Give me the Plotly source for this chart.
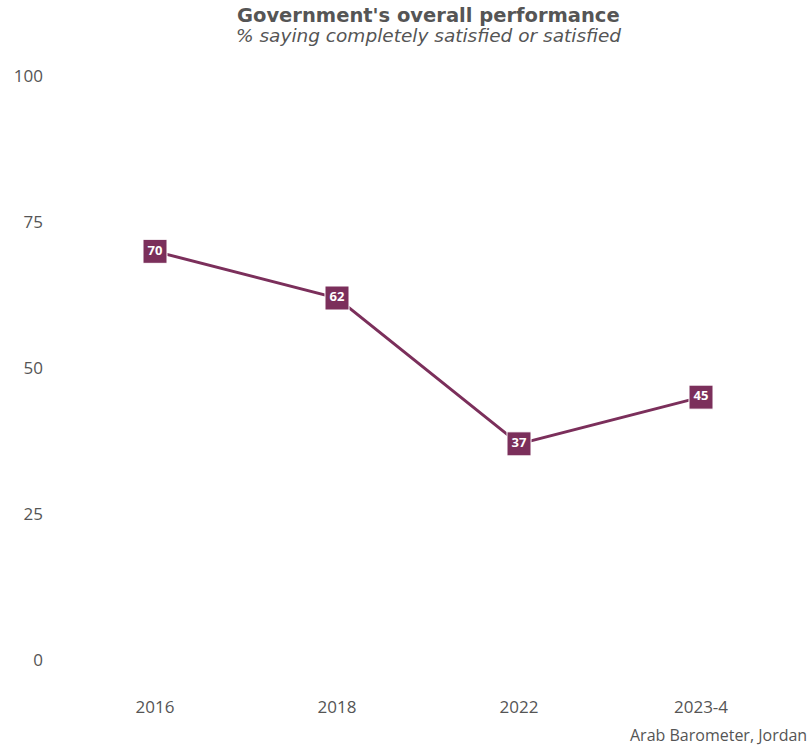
import plotly.graph_objects as go

years = ["2016", "2018", "2022", "2023-4"]
satisfied = [70, 62, 37, 45]
y_ticks = [0, 25, 50, 75, 100]

color = "#7B2F5B"
text_color = "#555555"
font_family = "'Open Sans', Lato, sans-serif"
title_family = "'DejaVu Sans', 'Open Sans', sans-serif"

fig = go.Figure()
fig.add_trace(go.Scatter(
    x=years,
    y=satisfied,
    mode="lines+markers+text",
    line=dict(color=color, width=3),
    marker=dict(symbol="square", size=24, color=color,
                line=dict(color="white", width=1)),
    text=[str(v) for v in satisfied],
    textposition="middle center",
    textfont=dict(color="white", size=13, family=font_family, weight="bold"),
    hoverinfo="skip",
    cliponaxis=False,
))

fig.update_layout(
    width=812,
    height=746,
    margin=dict(l=64, r=20, t=53, b=63),
    paper_bgcolor="white",
    plot_bgcolor="white",
    showlegend=False,
    font=dict(family=font_family, color=text_color),
    xaxis=dict(
        type="category",
        range=[-0.5, 3.5],
        showgrid=False, zeroline=False, showline=False,
        ticks="", ticklabelstandoff=12,
        tickfont=dict(size=17, color=text_color),
    ),
    yaxis=dict(
        range=[-4, 104],
        tickvals=y_ticks,
        showgrid=False, zeroline=False, showline=False,
        ticks="", ticklabelstandoff=20,
        tickfont=dict(size=17, color=text_color),
    ),
    annotations=[
        dict(text="<b>Government's overall performance</b>",
             xref="paper", yref="paper", x=0.5, y=1.0, yanchor="middle",
             xanchor="center", showarrow=False,
             yshift=53 - 15,
             font=dict(size=19.5, color=text_color, family=title_family)),
        dict(text="<i>% saying completely satisfied or satisfied</i>",
             xref="paper", yref="paper", x=0.5, y=1.0, yanchor="middle",
             xanchor="center", showarrow=False,
             yshift=53 - 35,
             font=dict(size=18.5, color=text_color, family=title_family)),
        dict(text="Arab Barometer, Jordan",
             xref="paper", yref="paper", x=1.0, y=0.0, yanchor="middle",
             xanchor="right", showarrow=False,
             xshift=17, yshift=-(735 - 683),
             font=dict(size=16, color=text_color, family=font_family)),
    ],
)

fig.write_html("out.html")
